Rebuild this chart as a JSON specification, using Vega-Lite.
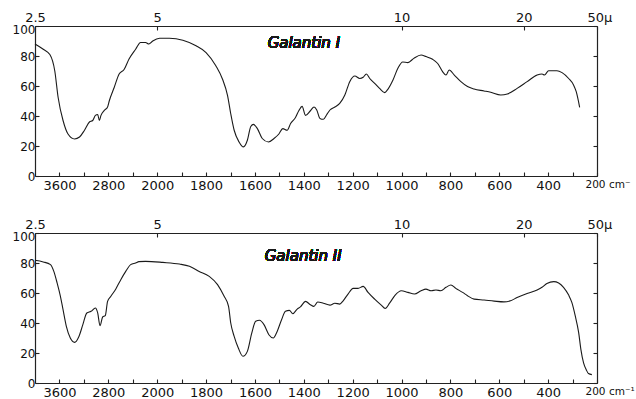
{
  "$schema": "https://vega.github.io/schema/vega-lite/v6.json",
  "background": "white",
  "padding": {"left": 12, "top": 11, "right": 2, "bottom": 0},
  "spacing": 57,
  "bounds": "flush",
  "config": {
    "view": {"stroke": null},
    "axis": {"labelFont": "DejaVu Sans", "labelColor": "#111", "domainColor": "#222", "tickColor": "#222", "domainWidth": 1.2, "tickWidth": 1.1, "grid": false, "title": null, "labelOverlap": false, "labelFlush": false, "labelBound": false}
  },
  "datasets": {
    "g1": [
      {"wn": 4000, "T": 88}, {"wn": 3865, "T": 84.5}, {"wn": 3757, "T": 81}, {"wn": 3676, "T": 70}, {"wn": 3622, "T": 52.5},
      {"wn": 3541, "T": 37}, {"wn": 3460, "T": 28}, {"wn": 3352, "T": 24.7}, {"wn": 3271, "T": 26}, {"wn": 3190, "T": 30.5},
      {"wn": 3109, "T": 36}, {"wn": 3055, "T": 37}, {"wn": 3012, "T": 40.4}, {"wn": 2974, "T": 41}, {"wn": 2947, "T": 37},
      {"wn": 2920, "T": 40.4}, {"wn": 2866, "T": 43.7}, {"wn": 2812, "T": 46}, {"wn": 2785, "T": 50}, {"wn": 2704, "T": 59},
      {"wn": 2623, "T": 68}, {"wn": 2542, "T": 71}, {"wn": 2461, "T": 78}, {"wn": 2353, "T": 84.5}, {"wn": 2272, "T": 89},
      {"wn": 2191, "T": 89}, {"wn": 2137, "T": 88}, {"wn": 2073, "T": 90}, {"wn": 1990, "T": 91.8}, {"wn": 1950, "T": 91.8},
      {"wn": 1895, "T": 90.5}, {"wn": 1841, "T": 86.8}, {"wn": 1800, "T": 82.3}, {"wn": 1760, "T": 73.5}, {"wn": 1733, "T": 64.7},
      {"wn": 1712, "T": 53.6}, {"wn": 1699, "T": 41.5}, {"wn": 1685, "T": 30.5}, {"wn": 1665, "T": 22.7}, {"wn": 1647, "T": 19.4},
      {"wn": 1631, "T": 23.8}, {"wn": 1617, "T": 33}, {"wn": 1606, "T": 34.4}, {"wn": 1590, "T": 31.6}, {"wn": 1570, "T": 25},
      {"wn": 1545, "T": 22.7}, {"wn": 1522, "T": 25}, {"wn": 1502, "T": 28}, {"wn": 1486, "T": 31.6}, {"wn": 1468, "T": 30.5},
      {"wn": 1454, "T": 35}, {"wn": 1434, "T": 39}, {"wn": 1420, "T": 43.7}, {"wn": 1407, "T": 46.4}, {"wn": 1393, "T": 40.4},
      {"wn": 1373, "T": 43.5}, {"wn": 1358, "T": 46}, {"wn": 1347, "T": 44}, {"wn": 1334, "T": 38.4}, {"wn": 1320, "T": 37.8},
      {"wn": 1307, "T": 40.7}, {"wn": 1293, "T": 44}, {"wn": 1273, "T": 46}, {"wn": 1253, "T": 48.4}, {"wn": 1232, "T": 54},
      {"wn": 1212, "T": 62.9}, {"wn": 1191, "T": 66.7}, {"wn": 1171, "T": 65}, {"wn": 1157, "T": 65.8}, {"wn": 1144, "T": 68},
      {"wn": 1130, "T": 65}, {"wn": 1110, "T": 61.8}, {"wn": 1090, "T": 58.4}, {"wn": 1069, "T": 55.6}, {"wn": 1056, "T": 57.8},
      {"wn": 1035, "T": 64}, {"wn": 1015, "T": 71.8}, {"wn": 995, "T": 76}, {"wn": 974, "T": 75.6}, {"wn": 950, "T": 78.4},
      {"wn": 920, "T": 80.7}, {"wn": 900, "T": 79.6}, {"wn": 873, "T": 77.8}, {"wn": 852, "T": 75}, {"wn": 832, "T": 69.6},
      {"wn": 818, "T": 67.3}, {"wn": 805, "T": 70.7}, {"wn": 784, "T": 67.3}, {"wn": 757, "T": 62.9}, {"wn": 730, "T": 59.6},
      {"wn": 703, "T": 58}, {"wn": 662, "T": 56.7}, {"wn": 635, "T": 55.8}, {"wn": 594, "T": 54}, {"wn": 567, "T": 54.7},
      {"wn": 527, "T": 58.4}, {"wn": 486, "T": 62.9}, {"wn": 445, "T": 67.3}, {"wn": 425, "T": 68}, {"wn": 415, "T": 67.3},
      {"wn": 398, "T": 70.2}, {"wn": 364, "T": 70.2}, {"wn": 343, "T": 68.9}, {"wn": 316, "T": 65}, {"wn": 296, "T": 60.7},
      {"wn": 285, "T": 56.2}, {"wn": 271, "T": 45.8}
    ],
    "g2": [
      {"wn": 4000, "T": 81.8}, {"wn": 3865, "T": 80.7}, {"wn": 3746, "T": 78.9}, {"wn": 3692, "T": 74.4}, {"wn": 3638, "T": 66.7},
      {"wn": 3584, "T": 57.8}, {"wn": 3541, "T": 48.9}, {"wn": 3487, "T": 37.8}, {"wn": 3422, "T": 30}, {"wn": 3352, "T": 27.1},
      {"wn": 3281, "T": 31}, {"wn": 3217, "T": 38.9}, {"wn": 3152, "T": 46.7}, {"wn": 3082, "T": 47.8}, {"wn": 3012, "T": 50},
      {"wn": 2974, "T": 46.7}, {"wn": 2936, "T": 38.2}, {"wn": 2893, "T": 44}, {"wn": 2850, "T": 44.9}, {"wn": 2812, "T": 54.4},
      {"wn": 2758, "T": 57.8}, {"wn": 2677, "T": 62.7}, {"wn": 2596, "T": 68.9}, {"wn": 2515, "T": 74.4}, {"wn": 2434, "T": 78.9},
      {"wn": 2353, "T": 80}, {"wn": 2299, "T": 80.9}, {"wn": 2191, "T": 81.1}, {"wn": 1977, "T": 80.4}, {"wn": 1909, "T": 79.3},
      {"wn": 1868, "T": 77.8}, {"wn": 1828, "T": 74.4}, {"wn": 1787, "T": 71.1}, {"wn": 1753, "T": 65.6}, {"wn": 1726, "T": 57.8},
      {"wn": 1708, "T": 51.1}, {"wn": 1699, "T": 40}, {"wn": 1685, "T": 31.1}, {"wn": 1668, "T": 23.3}, {"wn": 1649, "T": 17.8},
      {"wn": 1631, "T": 21.1}, {"wn": 1613, "T": 33.3}, {"wn": 1597, "T": 41.1}, {"wn": 1581, "T": 41.8}, {"wn": 1563, "T": 38.9},
      {"wn": 1543, "T": 32.2}, {"wn": 1525, "T": 30}, {"wn": 1509, "T": 34.4}, {"wn": 1491, "T": 42.2}, {"wn": 1475, "T": 47.8},
      {"wn": 1459, "T": 48.4}, {"wn": 1445, "T": 46.2}, {"wn": 1427, "T": 49.3}, {"wn": 1414, "T": 50.7}, {"wn": 1393, "T": 54.4},
      {"wn": 1373, "T": 52.2}, {"wn": 1359, "T": 51.1}, {"wn": 1343, "T": 54}, {"wn": 1320, "T": 53.2}, {"wn": 1293, "T": 51.9},
      {"wn": 1273, "T": 53.2}, {"wn": 1253, "T": 52.6}, {"wn": 1239, "T": 54.8}, {"wn": 1219, "T": 59.3}, {"wn": 1198, "T": 63.1},
      {"wn": 1178, "T": 63.1}, {"wn": 1157, "T": 64.4}, {"wn": 1137, "T": 60.4}, {"wn": 1110, "T": 55.9}, {"wn": 1083, "T": 51.9},
      {"wn": 1067, "T": 49.7}, {"wn": 1049, "T": 53.2}, {"wn": 1026, "T": 58.6}, {"wn": 1001, "T": 61.5}, {"wn": 974, "T": 60.4},
      {"wn": 947, "T": 59.3}, {"wn": 920, "T": 61.5}, {"wn": 900, "T": 62.6}, {"wn": 879, "T": 61.5}, {"wn": 859, "T": 62},
      {"wn": 839, "T": 61.5}, {"wn": 818, "T": 63.8}, {"wn": 798, "T": 65.3}, {"wn": 778, "T": 63.1}, {"wn": 750, "T": 60.4},
      {"wn": 730, "T": 58.2}, {"wn": 703, "T": 55.9}, {"wn": 662, "T": 55.3}, {"wn": 621, "T": 54.6}, {"wn": 581, "T": 54.1},
      {"wn": 554, "T": 54.8}, {"wn": 527, "T": 57}, {"wn": 486, "T": 59.7}, {"wn": 445, "T": 62}, {"wn": 425, "T": 63.8},
      {"wn": 405, "T": 66.4}, {"wn": 377, "T": 67.6}, {"wn": 357, "T": 66.7}, {"wn": 337, "T": 63.8}, {"wn": 316, "T": 58.6},
      {"wn": 303, "T": 53.7}, {"wn": 289, "T": 44.7}, {"wn": 275, "T": 33.6}, {"wn": 266, "T": 22.4}, {"wn": 255, "T": 13.4},
      {"wn": 244, "T": 8.9}, {"wn": 235, "T": 6.3}, {"wn": 221, "T": 5.6}
    ]
  },
  "vconcat": [
    {
      "width": 562, "height": 150,
      "data": {"name": "g1"},
      "layer": [
        {
          "mark": {"type": "line", "color": "#1a1a1a", "strokeWidth": 1.1, "interpolate": "monotone"},
          "encoding": {
            "x": {"field": "wn", "type": "quantitative", "scale": {"domain": [4000, 2000, 200], "range": [0, 122.2, 562], "nice": false},
              "axis": {"orient": "bottom", "values": [3600, 3200, 2800, 2400, 2000, 1900, 1800, 1700, 1600, 1500, 1400, 1300, 1200, 1100, 1000, 900, 800, 700, 600, 500, 400, 300, 200],
                "labelExpr": "indexof([3600,2800,2000,1800,1600,1400,1200,1000,800,600,400], datum.value) >= 0 ? '' + datum.value : (datum.value == 200 ? '200 cm⁻' : '')",
                "tickSize": -4, "labelPadding": 7, "labelFontSize": {"condition": {"test": "datum.value == 200", "value": 10.5}, "value": 13},
                "labelAlign": {"condition": {"test": "datum.value == 200", "value": "left"}, "value": "center"},
                "labelOffset": {"condition": {"test": "datum.value == 200", "value": -12}, "value": 0}}},
            "y": {"field": "T", "type": "quantitative", "scale": {"domain": [0, 100], "nice": false},
              "axis": {"orient": "left", "values": [0, 20, 40, 60, 80, 100], "tickSize": -4, "labelPadding": 4, "labelFontSize": 12,
                "labelOffset": {"condition": {"test": "datum.value == 100", "value": 3}, "value": 0}}}
          }
        },
        {
          "mark": {"type": "text", "align": "left", "baseline": "middle", "font": "DejaVu Sans", "fontSize": 15, "fontStyle": "italic", "color": "#1a1a1a"},
          "encoding": {
            "x": {"datum": 1548, "type": "quantitative",
              "axis": {"orient": "top", "values": [4000, 2000, 1000, 500, 200],
                "labelExpr": "datum.value == 4000 ? '2.5' : datum.value == 2000 ? '5' : datum.value == 1000 ? '10' : datum.value == 500 ? '20' : '50μ'",
                "tickSize": -4, "labelPadding": 6, "labelFontSize": 13,
                "labelAlign": {"condition": {"test": "datum.value == 200", "value": "left"}, "value": "center"},
                "labelOffset": {"condition": {"test": "datum.value == 200", "value": -10}, "value": 0}}},
            "y": {"datum": 89, "type": "quantitative",
              "axis": {"orient": "right", "values": [0, 20, 40, 60, 80, 100], "labels": false, "tickSize": -4}},
            "text": {"value": "Galantin I"}
          }
        }
      ],
      "resolve": {"axis": {"x": "independent", "y": "independent"}}
    },
    {
      "width": 562, "height": 150,
      "data": {"name": "g2"},
      "layer": [
        {
          "mark": {"type": "line", "color": "#1a1a1a", "strokeWidth": 1.1, "interpolate": "monotone"},
          "encoding": {
            "x": {"field": "wn", "type": "quantitative", "scale": {"domain": [4000, 2000, 200], "range": [0, 122.2, 562], "nice": false},
              "axis": {"orient": "bottom", "values": [3600, 3200, 2800, 2400, 2000, 1900, 1800, 1700, 1600, 1500, 1400, 1300, 1200, 1100, 1000, 900, 800, 700, 600, 500, 400, 300, 200],
                "labelExpr": "indexof([3600,2800,2000,1800,1600,1400,1200,1000,800,600,400], datum.value) >= 0 ? '' + datum.value : (datum.value == 200 ? '200 cm⁻¹' : '')",
                "tickSize": -4, "labelPadding": 7, "labelFontSize": {"condition": {"test": "datum.value == 200", "value": 10.5}, "value": 13},
                "labelAlign": {"condition": {"test": "datum.value == 200", "value": "left"}, "value": "center"},
                "labelOffset": {"condition": {"test": "datum.value == 200", "value": -12}, "value": 0}}},
            "y": {"field": "T", "type": "quantitative", "scale": {"domain": [0, 100], "nice": false},
              "axis": {"orient": "left", "values": [0, 20, 40, 60, 80, 100], "tickSize": -4, "labelPadding": 4, "labelFontSize": 12,
                "labelOffset": {"condition": {"test": "datum.value == 100", "value": 3}, "value": 0}}}
          }
        },
        {
          "mark": {"type": "text", "align": "left", "baseline": "middle", "font": "DejaVu Sans", "fontSize": 15, "fontStyle": "italic", "color": "#1a1a1a"},
          "encoding": {
            "x": {"datum": 1560, "type": "quantitative",
              "axis": {"orient": "top", "values": [4000, 2000, 1000, 500, 200],
                "labelExpr": "datum.value == 4000 ? '2.5' : datum.value == 2000 ? '5' : datum.value == 1000 ? '10' : datum.value == 500 ? '20' : '50μ'",
                "tickSize": -4, "labelPadding": 6, "labelFontSize": 13,
                "labelAlign": {"condition": {"test": "datum.value == 200", "value": "left"}, "value": "center"},
                "labelOffset": {"condition": {"test": "datum.value == 200", "value": -10}, "value": 0}}},
            "y": {"datum": 84.6, "type": "quantitative",
              "axis": {"orient": "right", "values": [0, 20, 40, 60, 80, 100], "labels": false, "tickSize": -4}},
            "text": {"value": "Galantin II"}
          }
        }
      ],
      "resolve": {"axis": {"x": "independent", "y": "independent"}}
    }
  ]
}
